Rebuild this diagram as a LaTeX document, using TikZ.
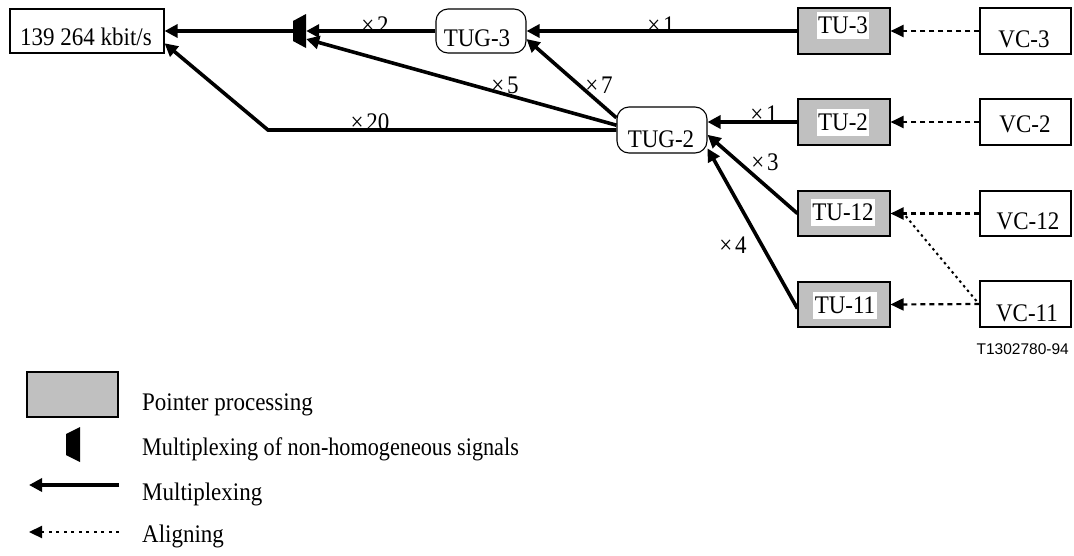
\documentclass[tikz,border=0pt]{standalone}
\usepackage{fontspec}
\setmainfont{Liberation Serif}
\newfontfamily\figsans{Liberation Sans}
\usetikzlibrary{arrows.meta,calc}
\definecolor{ptrgray}{RGB}{192,192,192}
\newcommand\stretchtxt[1]{\scalebox{1}[1.1]{#1}}
\begin{document}
\begin{tikzpicture}[x=1pt,y=-1pt,
  every node/.style={font=\fontsize{23}{27}\selectfont, inner sep=0pt},
  box/.style={draw, line width=1.1pt, inner sep=0pt, minimum height=46pt, minimum width=92pt},
  ptrbox/.style={box, fill=ptrgray},
  tugbox/.style={box, rounded corners=12pt, minimum width=90pt},
  txt/.style={anchor=base},
  wtxt/.style={anchor=base, fill=white, text height=20pt, text depth=4pt, inner xsep=1.5pt, inner ysep=1.5pt},
  lbl/.style={anchor=base},
  muxshape/.style={minimum width=13pt, minimum height=34pt, inner sep=0pt,
    path picture={\fill ($(path picture bounding box.north east)$) -- ($(path picture bounding box.south east)$)
      -- ($(path picture bounding box.south west)+(0,-7)$) -- ($(path picture bounding box.north west)+(0,7)$) -- cycle;}},
  mxarrow/.style={-{Triangle[length=13pt,width=13pt]}, line width=3.6pt},
  alarrow/.style={-{Triangle[length=13pt,width=12pt]}, line width=2.2pt, dash pattern=on 5pt off 4pt},
  alline/.style={line width=2pt, dash pattern=on 2.5pt off 3.5pt},
]
\useasboundingbox (0,0) rectangle (1074,555);

% boxes
\node[box, minimum width=154pt, minimum height=44pt] (main) at (87,31) {};
\node[muxshape] (mux) at (299.5,31) {};
\node[tugbox, minimum height=44pt] (tug3) at (481,31) {};
\node[ptrbox] (tu3) at (844,31) {};
\node[box, minimum width=91pt] (vc3) at (1025.5,31) {};
\node[ptrbox] (tu2) at (844,122) {};
\node[box, minimum width=91pt] (vc2) at (1025.5,122) {};
\node[tugbox] (tug2) at (662,130) {};
\node[ptrbox, minimum height=45pt] (tu12) at (844,213.5) {};
\node[box, minimum width=91pt, minimum height=45pt] (vc12) at (1025.5,213.5) {};
\node[ptrbox, minimum height=45pt] (tu11) at (844,304.5) {};
\node[box, minimum width=91pt] (vc11) at (1025.5,304) {};
\coordinate (c20) at (268,130);

% texts
\node[txt] (maint) at (86,45) {\stretchtxt{139 264 kbit/s}};
\node[txt] (tug3t) at (477,46) {\stretchtxt{TUG-3}};
\node[wtxt] (tu3t) at (843,33) {\stretchtxt{TU-3}};
\node[txt] (vc3t) at (1024,47) {\stretchtxt{VC-3}};
\node[wtxt] (tu2t) at (843,130) {\stretchtxt{TU-2}};
\node[txt] (vc2t) at (1025,132) {\stretchtxt{VC-2}};
\node[txt] (tug2t) at (661,147) {\stretchtxt{TUG-2}};
\node[wtxt] (tu12t) at (843,220) {\stretchtxt{TU-12}};
\node[txt] (vc12t) at (1028,229) {\stretchtxt{VC-12}};
\node[wtxt] (tu11t) at (845,313) {\stretchtxt{TU-11}};
\node[txt] (vc11t) at (1027,321) {\stretchtxt{VC-11}};
\node[anchor=base east, font=\figsans\fontsize{15.5}{18}\selectfont] (fig) at (1069,354) {T1302780-94};

% multiplicity labels
\node[lbl] (l2) at (375,33) {\stretchtxt{×\kern3pt 2}};
\node[lbl] (l1a) at (661,33) {\stretchtxt{×\kern3pt 1}};
\node[lbl] (l5) at (505,93) {\stretchtxt{×\kern3pt 5}};
\node[lbl] (l7) at (599,93) {\stretchtxt{×\kern3pt 7}};
\node[lbl] (l20) at (370,130) {\stretchtxt{×\kern3pt 20}};
\node[lbl] (l1b) at (764,122) {\stretchtxt{×\kern3pt 1}};
\node[lbl] (l3) at (765,170) {\stretchtxt{×\kern3pt 3}};
\node[lbl] (l4) at (733,253) {\stretchtxt{×\kern3pt 4}};

% multiplexing connectors
\draw[mxarrow] (tug3.west) -- (mux.east);
\draw[mxarrow] (mux.west) -- (main.east);
\draw[mxarrow] (tu3.west) -- (tug3.east);
\draw[mxarrow] (tug2.165) -- (tug3.-10);
\draw[mxarrow] (tug2.174) -- (mux.-50);
\draw[mxarrow] (tug2.west) -- (c20) -- (main.-9);
\draw[mxarrow] (tu2.west) -- (tu2.west -| tug2.east);
\draw[mxarrow] (tu12.west) -- (tug2.-6);
\draw[mxarrow] (tu11.185) -- (tug2.-22);

% aligning connectors
\draw[alarrow] (vc3.west) -- (tu3.east);
\draw[alarrow] (vc2.west) -- (tu2.east);
\draw[alarrow] (vc12.west) -- (tu12.east);
\draw[alarrow] (vc11.west) -- (tu11.east);
\draw[alline] ($(vc11.west)+(-3,-3)$) -- ($(tu12.east)+(13,0)$);

% legend
\node[ptrbox, minimum width=91pt, minimum height=45pt] (lptr) at (72.5,394.5) {};
\node[anchor=base west] (lptrt) at (142,410) {\stretchtxt{Pointer processing}};
\node[muxshape, minimum height=35pt, minimum width=14pt] (lmux) at (73,444.5) {};
\node[anchor=base west] (lmuxt) at (142,455) {\scalebox{0.965}[1.1]{Multiplexing of non-homogeneous signals}};
\coordinate (lm1) at (119,485);
\coordinate (lm2) at (29,485);
\draw[mxarrow] (lm1) -- (lm2);
\node[anchor=base west] (lmt) at (142,500) {\stretchtxt{Multiplexing}};
\coordinate (la1) at (119,532);
\coordinate (la2) at (29,532);
\draw[alarrow, dash pattern=on 3pt off 4.5pt] (la1) -- (la2);
\node[anchor=base west] (lat) at (142,542) {\stretchtxt{Aligning}};
\end{tikzpicture}
\end{document}
